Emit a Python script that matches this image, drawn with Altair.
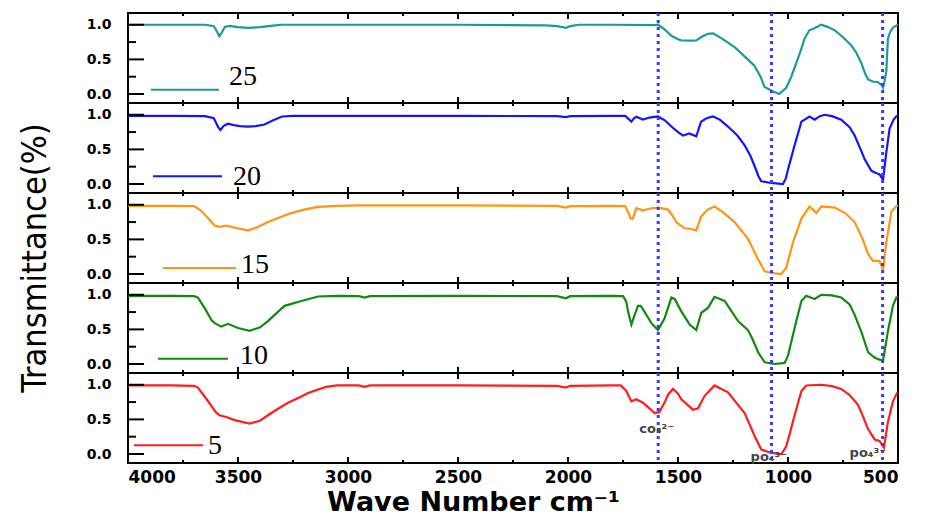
import altair as alt
import pandas as pd

# ---------------- data ----------------
wn_25 = [4000, 3800, 3650, 3610, 3595, 3585, 3575, 3560, 3540, 3500, 3450, 3400, 3330, 3300, 3000, 2500, 2100, 2050, 2010, 1990, 1950, 1800, 1600, 1590, 1560, 1530, 1500, 1485, 1440, 1417, 1390, 1364, 1340, 1300, 1244, 1200, 1153, 1125, 1106, 1070, 1040, 1008, 985, 970, 945, 925, 903, 880, 849, 820, 787, 750, 712, 690, 667, 650, 636, 615, 591, 575, 568, 560, 553, 546, 535, 523, 500]
tr_25 = [1.0, 1.0, 1.0, 0.98, 0.90, 0.835, 0.88, 0.97, 0.985, 0.965, 0.955, 0.965, 0.99, 1.0, 1.0, 1.0, 0.99, 0.98, 0.955, 0.98, 1.0, 1.0, 0.995, 1.0, 0.93, 0.84, 0.79, 0.775, 0.77, 0.775, 0.83, 0.87, 0.875, 0.80, 0.68, 0.55, 0.41, 0.25, 0.10, 0.04, 0.0, 0.09, 0.25, 0.38, 0.60, 0.80, 0.92, 0.95, 1.0, 0.97, 0.92, 0.82, 0.70, 0.60, 0.45, 0.30, 0.21, 0.18, 0.17, 0.13, 0.09, 0.20, 0.33, 0.80, 0.90, 0.96, 1.0]

wn_20 = [4000, 3800, 3650, 3610, 3590, 3580, 3565, 3545, 3520, 3490, 3455, 3420, 3380, 3340, 3300, 3250, 2500, 2050, 2010, 1990, 1800, 1740, 1725, 1712, 1700, 1690, 1659, 1630, 1591, 1560, 1530, 1500, 1477, 1449, 1417, 1395, 1370, 1341, 1310, 1273, 1230, 1197, 1170, 1152, 1135, 1122, 1076, 1023, 1010, 1000, 970, 939, 902, 879, 855, 833, 800, 758, 720, 697, 670, 652, 621, 600, 584, 568, 553, 538, 520, 508, 500]
tr_20 = [0.985, 0.985, 0.98, 0.95, 0.82, 0.78, 0.84, 0.87, 0.85, 0.835, 0.83, 0.835, 0.86, 0.92, 0.975, 0.985, 0.985, 0.98, 0.965, 0.98, 0.985, 0.985, 0.94, 0.90, 0.95, 0.97, 0.93, 0.96, 0.975, 0.92, 0.83, 0.75, 0.70, 0.73, 0.69, 0.90, 0.95, 0.975, 0.93, 0.83, 0.70, 0.56, 0.40, 0.26, 0.12, 0.04, 0.015, 0.0, 0.08, 0.21, 0.56, 0.90, 0.975, 0.93, 0.98, 1.0, 0.98, 0.93, 0.82, 0.70, 0.50, 0.36, 0.19, 0.16, 0.14, 0.06, 0.46, 0.80, 0.93, 0.975, 0.985]

wn_15 = [4000, 3800, 3700, 3670, 3640, 3606, 3584, 3553, 3500, 3455, 3410, 3364, 3300, 3258, 3200, 3136, 3050, 2950, 2500, 2050, 2010, 1990, 1800, 1740, 1725, 1715, 1705, 1690, 1659, 1620, 1591, 1545, 1520, 1508, 1470, 1440, 1417, 1395, 1365, 1334, 1290, 1243, 1182, 1136, 1106, 1076, 1030, 1008, 995, 977, 939, 902, 871, 848, 788, 740, 697, 660, 636, 614, 584, 568, 553, 530, 508, 500]
tr_15 = [0.985, 0.985, 0.98, 0.92, 0.82, 0.70, 0.68, 0.70, 0.66, 0.63, 0.68, 0.75, 0.83, 0.88, 0.93, 0.97, 0.985, 0.99, 0.99, 0.985, 0.96, 0.98, 0.985, 0.98, 0.88, 0.80, 0.80, 0.95, 0.92, 0.95, 0.96, 0.93, 0.82, 0.75, 0.66, 0.65, 0.63, 0.83, 0.93, 0.975, 0.88, 0.75, 0.51, 0.21, 0.04, 0.015, 0.0, 0.09, 0.25, 0.46, 0.80, 0.975, 0.88, 0.975, 0.96, 0.88, 0.75, 0.50, 0.29, 0.19, 0.19, 0.06, 0.46, 0.90, 0.98, 0.985]

wn_10 = [4000, 3800, 3700, 3682, 3650, 3620, 3606, 3576, 3545, 3500, 3447, 3400, 3364, 3320, 3288, 3212, 3136, 3050, 2950, 2925, 2900, 2500, 2050, 2010, 1990, 1800, 1750, 1735, 1727, 1712, 1697, 1682, 1670, 1659, 1621, 1591, 1561, 1530, 1515, 1485, 1447, 1417, 1394, 1364, 1334, 1288, 1227, 1182, 1160, 1136, 1106, 1061, 1015, 1000, 985, 960, 939, 917, 879, 849, 800, 758, 720, 697, 665, 636, 610, 591, 568, 546, 523, 508, 500]
tr_10 = [0.985, 0.985, 0.98, 0.96, 0.80, 0.63, 0.59, 0.54, 0.58, 0.52, 0.48, 0.53, 0.62, 0.75, 0.84, 0.91, 0.975, 0.985, 0.98, 0.96, 0.98, 0.985, 0.98, 0.95, 0.98, 0.985, 0.98, 0.90, 0.76, 0.57, 0.71, 0.84, 0.84, 0.79, 0.59, 0.49, 0.66, 0.96, 0.94, 0.76, 0.57, 0.49, 0.74, 0.81, 0.97, 0.91, 0.62, 0.49, 0.35, 0.17, 0.025, 0.0, 0.015, 0.12, 0.32, 0.65, 0.91, 0.985, 0.94, 1.0, 0.99, 0.96, 0.86, 0.71, 0.45, 0.17, 0.10, 0.07, 0.05, 0.47, 0.84, 0.96, 0.97]

wn_5 = [4000, 3800, 3700, 3682, 3640, 3600, 3584, 3550, 3515, 3447, 3400, 3364, 3320, 3273, 3212, 3182, 3100, 3050, 2950, 2925, 2900, 2500, 2050, 2010, 1990, 1800, 1760, 1735, 1712, 1690, 1659, 1630, 1606, 1584, 1560, 1545, 1523, 1500, 1485, 1432, 1409, 1379, 1334, 1273, 1197, 1152, 1121, 1076, 1030, 1008, 990, 970, 939, 917, 848, 800, 758, 720, 682, 660, 636, 606, 584, 564, 546, 523, 503]
tr_5 = [0.99, 0.99, 0.985, 0.96, 0.78, 0.60, 0.56, 0.53, 0.49, 0.44, 0.48, 0.56, 0.65, 0.74, 0.83, 0.88, 0.97, 0.99, 0.99, 0.97, 0.99, 0.99, 0.985, 0.96, 0.985, 0.99, 0.99, 0.91, 0.76, 0.79, 0.74, 0.66, 0.59, 0.61, 0.75, 0.86, 0.94, 0.87, 0.79, 0.64, 0.66, 0.84, 0.99, 0.89, 0.59, 0.26, 0.065, 0.015, 0.0, 0.11, 0.32, 0.56, 0.91, 0.99, 1.0, 0.98, 0.94, 0.85, 0.71, 0.55, 0.36, 0.21, 0.19, 0.09, 0.46, 0.76, 0.89]

series_labels = ["25", "20", "15", "10", "5"]
series_wn = [wn_25, wn_20, wn_15, wn_10, wn_5]
series_tr = [tr_25, tr_20, tr_15, tr_10, tr_5]
series_colors = ["#1a9a9a", "#1414ff", "#ff9510", "#128a12", "#ff1e1e"]

marker_wn = [1590, 1075, 570]

annot_text = ["co\u2083\u00b2\u207b", "po\u2084\u00b3\u207b", "po\u2084\u00b3\u207b"]
annot_wn = [1676, 1170, 720]
annot_tr = [0.36, -0.05, 0.01]

x_major = [4000, 3500, 3000, 2500, 2000, 1500, 1000, 500]
x_minor = [3750, 3250, 2750, 2250, 1750, 1250, 750]
y_major = [0.0, 0.5, 1.0]
y_minor = [0.25, 0.75]

# ---------------- styling / layout ----------------
W, H = 770, 90
legend_geom = [  # (line x1, line x2, line y, text x, text y)
    (23, 91, 76.7, 101, 64),
    (25, 94, 73.3, 105, 74),
    (35, 108, 75, 113, 72),
    (30, 100, 75.7, 112, 72.5),
    (6, 75, 72.3, 80, 73),
]

X_SCALE = alt.Scale(domain=[4000, 500], nice=False, zero=False)
Y_SCALE = alt.Scale(domain=[-0.13, 1.17], nice=False, zero=False)

x_axis_bottom = alt.Axis(
    values=x_major,
    format="d",
    ticks=False,
    domain=False,
    grid=False,
    labelFont="DejaVu Sans",
    labelFontWeight="bold",
    labelFontSize=17,
    labelColor="black",
    labelPadding=6,
    title="Wave Number cm\u207b\u00b9",
    titleFont="DejaVu Sans",
    titleFontWeight="bold",
    titleFontSize=27,
    titleColor="black",
    titlePadding=4,
    titleX=345,
)

y_axis = alt.Axis(
    values=y_major,
    format=".1f",
    ticks=False,
    labelFont="DejaVu Sans",
    labelFontWeight="bold",
    labelFontSize=14,
    labelColor="black",
    labelPadding=17,
    domain=False,
    grid=False,
    title=None,
)

markers_df = pd.DataFrame({"wn": marker_wn})
xmaj_df = pd.DataFrame({"wn": x_major})
xmin_df = pd.DataFrame({"wn": x_minor})
ymaj_df = pd.DataFrame({"tr": y_major})
ymin_df = pd.DataFrame({"tr": y_minor})

panels = []
for i, (lab, wn, tr, col) in enumerate(zip(series_labels, series_wn, series_tr, series_colors)):
    is_bottom = i == len(series_labels) - 1
    xax = x_axis_bottom if is_bottom else None

    def X():
        return alt.X("wn:Q", scale=X_SCALE, axis=xax)

    def Y():
        return alt.Y("tr:Q", scale=Y_SCALE, axis=y_axis)

    df = pd.DataFrame({"wn": wn, "tr": tr})
    line = alt.Chart(df).mark_line(color=col, strokeWidth=2.2).encode(
        x=X(), y=Y(), order=alt.Order("wn:Q", sort="descending"),
    )

    layers = [line]
    for tdf, length in ((xmaj_df, 6), (xmin_df, 3)):
        layers.append(alt.Chart(tdf).mark_rule(color="black", strokeWidth=2).encode(
            x=X(), y=alt.value(H), y2=alt.value(H - length)))
        layers.append(alt.Chart(tdf).mark_rule(color="black", strokeWidth=2).encode(
            x=X(), y=alt.value(0), y2=alt.value(length)))
    for tdf, length in ((ymaj_df, 16), (ymin_df, 8)):
        layers.append(alt.Chart(tdf).mark_rule(color="black", strokeWidth=2).encode(
            y=Y(), x=alt.value(0), x2=alt.value(length)))

    layers.append(alt.Chart(markers_df).mark_rule(
        color="#3a3aff", strokeWidth=3, strokeDash=[3, 4]
    ).encode(x=X()))

    lx1, lx2, ly, tx, ty = legend_geom[i]
    lab_df = pd.DataFrame({"label": [lab]})
    layers.append(alt.Chart(lab_df).mark_rule(color=col, strokeWidth=2).encode(
        x=alt.value(lx1), x2=alt.value(lx2), y=alt.value(ly)))
    layers.append(alt.Chart(lab_df).mark_text(
        align="left", baseline="middle", font="Liberation Serif", fontSize=28, color="black"
    ).encode(x=alt.value(tx), y=alt.value(ty), text="label:N"))

    if i == 2:
        layers.append(alt.Chart(pd.DataFrame({"t": ["Transmittance(%)"]})).mark_text(
            angle=270, align="center", baseline="middle",
            font="Liberation Sans Narrow, DejaVu Sans Condensed, sans-serif",
            fontSize=34, color="black",
        ).encode(x=alt.value(-92), y=alt.value(65), text="t:N"))

    if is_bottom:
        adf = pd.DataFrame({"wn": annot_wn, "tr": annot_tr, "t": annot_text})
        layers.append(alt.Chart(adf).mark_text(
            align="left", baseline="middle", font="DejaVu Sans", fontWeight="bold",
            fontSize=13, color="#444444",
        ).encode(x=X(), y=Y(), text="t:N"))

    panel = alt.layer(*layers).properties(width=W, height=H)
    panels.append(panel)

chart = alt.vconcat(*panels, spacing=0, bounds="flush").properties(
    padding={"left": 18, "top": 10, "right": 5, "bottom": 5},
    background="white",
).configure_view(stroke="black", strokeWidth=2)

chart.save("out.html", embed_options={"renderer": "svg", "actions": False})
